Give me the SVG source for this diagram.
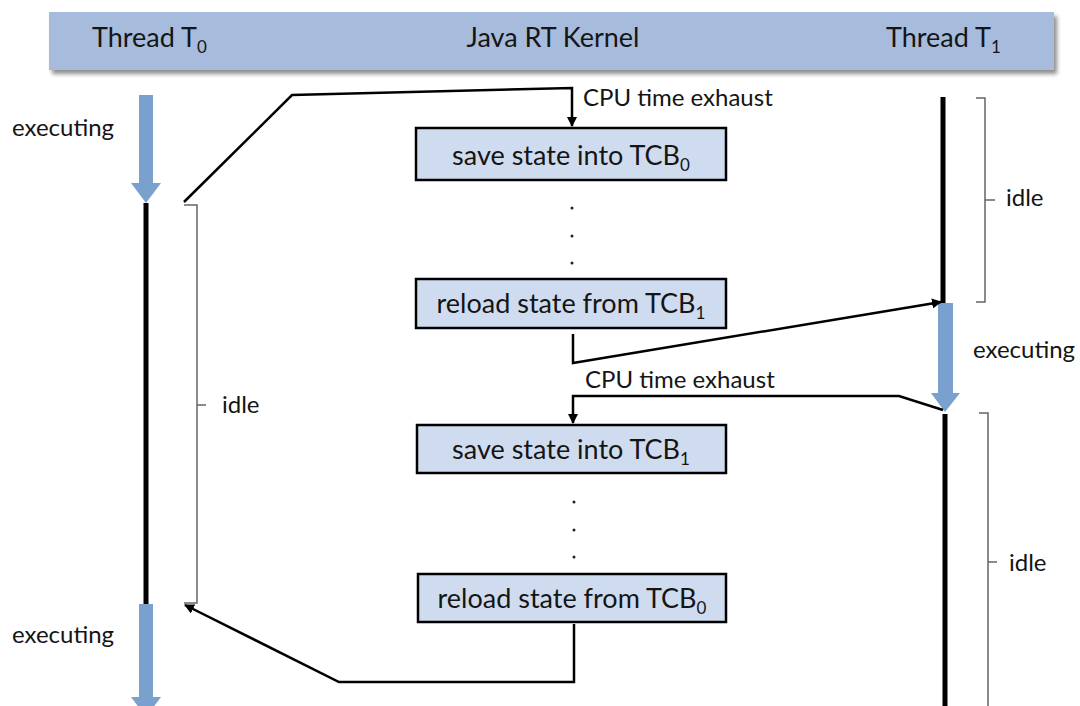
<svg xmlns="http://www.w3.org/2000/svg" width="1080" height="706" viewBox="0 0 1080 706">
  <defs>
    <style>
      text { font-family: Lato, "Open Sans", "Liberation Sans", sans-serif; fill: #151515; }
      .hdr { font-size: 27px; }
      .lbl { font-size: 24px; }
      .box-t { font-size: 27px; text-anchor: middle; }
      .sub { font-size: 17px; }
      .box { fill: #cfdcef; stroke: #000; stroke-width: 2.5; }
      .flow { fill: #7aa1cd; }
      .busy { stroke: #000; stroke-width: 5; fill: none; }
      .conn { stroke: #000; stroke-width: 2.5; fill: none; stroke-linejoin: miter; }
      .brace { stroke: #666; stroke-width: 1.5; fill: none; }
      .dot { fill: #222; }
    </style>
    <marker id="ah" viewBox="0 0 10 10" refX="9" refY="5" markerWidth="4" markerHeight="4" orient="auto" markerUnits="strokeWidth">
      <path d="M0,0 L10,5 L0,10 z" fill="#000"/>
    </marker>
    <filter id="shadow" x="-5%" y="-20%" width="110%" height="160%">
      <feGaussianBlur in="SourceAlpha" stdDeviation="2"/>
      <feOffset dx="3" dy="4" result="b"/>
      <feComponentTransfer><feFuncA type="linear" slope="0.45"/></feComponentTransfer>
      <feMerge><feMergeNode/><feMergeNode in="SourceGraphic"/></feMerge>
    </filter>
  </defs>

  <!-- header band -->
  <g id="header">
    <rect x="49" y="12" width="1005" height="58" fill="#a7bcdd" filter="url(#shadow)"/>
    <text class="hdr" x="92" y="47">Thread T<tspan class="sub" dy="6">0</tspan></text>
    <text class="hdr" x="553" y="47" text-anchor="middle">Java RT Kernel</text>
    <text class="hdr" x="886" y="47">Thread T<tspan class="sub" dy="6">1</tspan></text>
  </g>

  <!-- thread T0 timeline -->
  <g id="thread-t0">
    <polygon class="flow" points="139,95 153,95 153,183 161,183 146,203 131,183 139,183"/>
    <line class="busy" x1="146" y1="203" x2="146" y2="604"/>
    <polygon class="flow" points="139,604 153,604 153,697 161,697 146,717 131,697 139,697"/>
    <text class="lbl" x="12" y="136">executing</text>
    <text class="lbl" x="12" y="643">executing</text>
    <path class="brace" d="M184,205 H197 V603 H184 M197,405 H206"/>
    <text class="lbl" x="222" y="413">idle</text>
  </g>

  <!-- thread T1 timeline -->
  <g id="thread-t1">
    <line class="busy" x1="943" y1="97" x2="943" y2="303"/>
    <polygon class="flow" points="938,303 953,303 953,393 960,393 945,412 931,393 938,393"/>
    <line class="busy" x1="945" y1="414" x2="945" y2="710"/>
    <path class="brace" d="M976,98 H985 V302 H976 M985,200 H995"/>
    <text class="lbl" x="1006" y="206">idle</text>
    <text class="lbl" x="973" y="358">executing</text>
    <path class="brace" d="M979,413 H988 V710 M988,562 H997"/>
    <text class="lbl" x="1009" y="571">idle</text>
  </g>

  <!-- kernel steps -->
  <g id="save-tcb0">
    <rect class="box" x="416" y="128" width="310" height="52"/>
    <text class="box-t" x="571" y="165">save state into TCB<tspan class="sub" dy="6">0</tspan></text>
  </g>
  <g id="reload-tcb1">
    <rect class="box" x="416" y="279" width="310" height="49"/>
    <text class="box-t" x="571" y="313">reload state from TCB<tspan class="sub" dy="6">1</tspan></text>
  </g>
  <g id="save-tcb1">
    <rect class="box" x="417" y="425" width="309" height="48"/>
    <text class="box-t" x="571" y="459">save state into TCB<tspan class="sub" dy="6">1</tspan></text>
  </g>
  <g id="reload-tcb0">
    <rect class="box" x="418" y="574" width="308" height="48"/>
    <text class="box-t" x="572" y="608">reload state from TCB<tspan class="sub" dy="6">0</tspan></text>
  </g>

  <!-- elided steps -->
  <g id="ellipsis-1">
    <circle class="dot" cx="572" cy="208" r="1.5"/>
    <circle class="dot" cx="572" cy="236" r="1.5"/>
    <circle class="dot" cx="572" cy="263" r="1.5"/>
  </g>
  <g id="ellipsis-2">
    <circle class="dot" cx="574" cy="502" r="1.5"/>
    <circle class="dot" cx="574" cy="530" r="1.5"/>
    <circle class="dot" cx="574" cy="557" r="1.5"/>
  </g>

  <!-- control transfers -->
  <g id="connectors">
    <polyline class="conn" points="184,202 292,95 572,88 572,126" marker-end="url(#ah)"/>
    <polyline class="conn" points="573,334 573,363 941,302" marker-end="url(#ah)"/>
    <polyline class="conn" points="943,410 899,396 573,396 573,423" marker-end="url(#ah)"/>
    <polyline class="conn" points="574,624 574,682 339,682 185,605" marker-end="url(#ah)"/>
    <text class="lbl" x="583" y="106">CPU time exhaust</text>
    <text class="lbl" x="585" y="388">CPU time exhaust</text>
  </g>
</svg>
